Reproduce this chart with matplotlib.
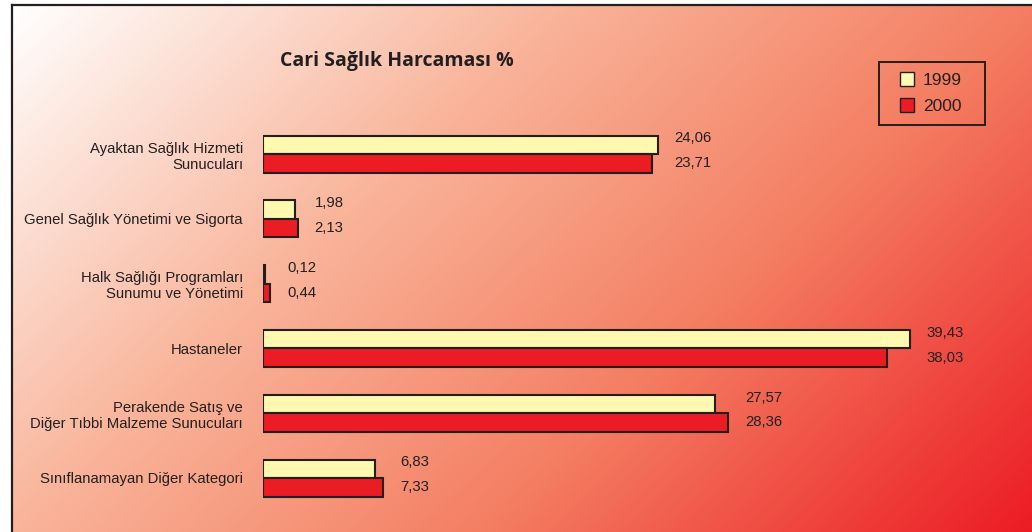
import numpy as np
import matplotlib
matplotlib.use('Agg')
import matplotlib.pyplot as plt
from matplotlib.colors import LinearSegmentedColormap
from matplotlib.patches import Patch, Rectangle
from matplotlib.legend_handler import HandlerPatch

# data
categories = [
    "Ayaktan Sağlık Hizmeti\nSunucuları",
    "Genel Sağlık Yönetimi ve Sigorta",
    "Halk Sağlığı Programları\nSunumu ve Yönetimi",
    "Hastaneler",
    "Perakende Satış ve\nDiğer Tıbbi Malzeme Sunucuları",
    "Sınıflanamayan Diğer Kategori",
]
years = ["1999", "2000"]
v1999 = [24.06, 1.98, 0.12, 39.43, 27.57, 6.83]
v2000 = [23.71, 2.13, 0.44, 38.03, 28.36, 7.33]
title = "Cari Sağlık Harcaması %"

DARK = '#231F20'
YELLOW = '#FFF8B0'
RED = '#EC1C24'
W, H = 1032, 532

plt.rcParams['font.family'] = ['Liberation Sans', 'DejaVu Sans']
fig = plt.figure(figsize=(W / 100, H / 100), dpi=100)
fig.patch.set_facecolor('white')

# 1. gradient background inside the frame
bg = fig.add_axes([12 / W, 0, 1 - 12 / W, (H - 5) / H])
gx, gy = np.meshgrid(np.linspace(0, 1, 400), np.linspace(0, 1, 220))
grad = 0.65 * gx + 0.35 * gy
cmap = LinearSegmentedColormap.from_list(
    'bg', [(0.0, '#FFFFFF'), (0.35, '#F9B49A'), (0.65, '#F47E62'), (1.0, '#EC1C24')])
bg.imshow(grad, cmap=cmap, vmin=0, vmax=1, aspect='auto', origin='upper',
          extent=(0, 1, 1, 0), interpolation='bilinear')
bg.set_xticks([])
bg.set_yticks([])
for side in ('right', 'bottom'):
    bg.spines[side].set_visible(False)
for side in ('top', 'left'):
    bg.spines[side].set_color(DARK)
    bg.spines[side].set_linewidth(1.6)

# 2. bar axes on top
ax = fig.add_axes([263 / W, 0, (W - 263) / W, (H - 5) / H])
ax.patch.set_alpha(0)
px_per_unit = 16.41
ax.set_xlim(0, (W - 263) / px_per_unit)
ax.set_ylim((532 - 154) / 64.8, (5 - 154) / 64.8)

y = np.arange(len(categories))
bh = 18.5 / 64.8
ax.barh(y - bh / 2, v1999, height=bh, color=YELLOW, edgecolor=DARK, linewidth=1.5, label=years[0])
ax.barh(y + bh / 2, v2000, height=bh, color=RED, edgecolor=DARK, linewidth=1.5, label=years[1])

for i in range(len(categories)):
    xend = max(v1999[i], v2000[i])
    ax.annotate(f"{v1999[i]:.2f}".replace('.', ','), (xend, y[i] - bh / 2),
                xytext=(12, 4.5), textcoords='offset points',
                ha='left', va='center', fontsize=10.7, color=DARK)
    ax.annotate(f"{v2000[i]:.2f}".replace('.', ','), (xend, y[i] + bh / 2),
                xytext=(12, 0), textcoords='offset points',
                ha='left', va='center', fontsize=10.7, color=DARK)

ax.set_yticks(y)
ax.set_yticklabels(categories, fontsize=10.7, color=DARK)
ax.tick_params(axis='y', length=0, pad=14.4)
ax.set_xticks([])
for s in ax.spines.values():
    s.set_visible(False)

fig.text(397 / W, 1 - 61 / H, title, ha='center', va='center',
         fontsize=14, fontweight='bold', family=['Open Sans', 'DejaVu Sans'], color=DARK)


# legend with small squares and a plain box around it
def square(legend, orig_handle, xdescent, ydescent, width, height, fontsize):
    s = 10.0
    return Rectangle((-xdescent + width - s, -ydescent + (height - s) / 2), s, s)


handles = [Patch(facecolor=YELLOW, edgecolor=DARK, linewidth=1.0, label=years[0]),
           Patch(facecolor=RED, edgecolor=DARK, linewidth=1.0, label=years[1])]
leg = ax.legend(handles=handles, loc='center left', bbox_to_anchor=(900 / W, 1 - 93 / H),
                bbox_transform=fig.transFigure, borderaxespad=0, borderpad=0, fontsize=12.5,
                frameon=False, handlelength=0.81, handleheight=0.81,
                handletextpad=0.5, labelspacing=0.6,
                handler_map={Patch: HandlerPatch(patch_func=square)})
for t in leg.get_texts():
    t.set_color(DARK)
fig.patches.append(Rectangle((879 / W, 1 - 125 / H), 106 / W, 63 / H, transform=fig.transFigure,
                             fill=False, edgecolor=DARK, linewidth=1.4))

fig.savefig('out.png', dpi=100)
